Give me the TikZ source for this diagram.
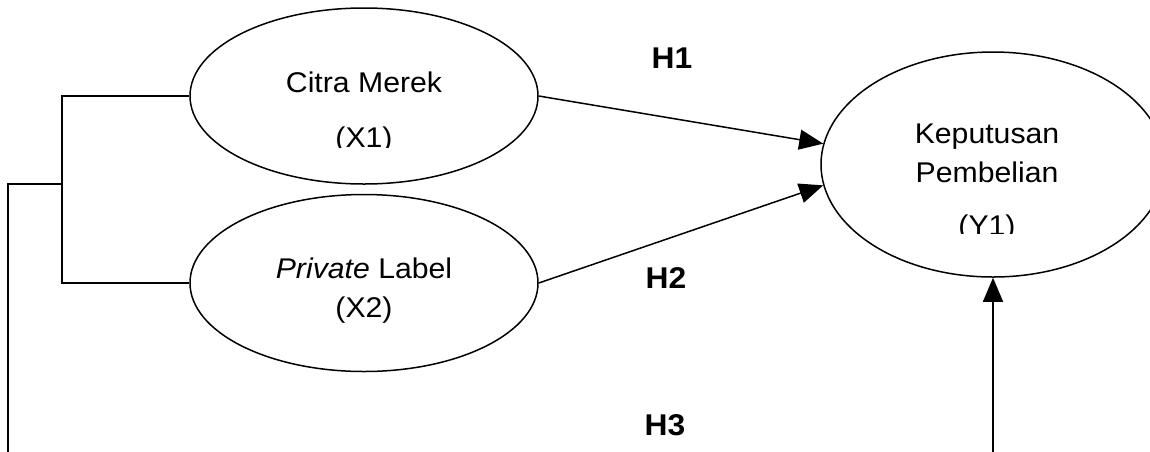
\documentclass[tikz,border=0pt]{standalone}
\usepackage{fontspec}
\setmainfont{Liberation Sans}[FakeStretch=1.06]
\usetikzlibrary{shapes.geometric,arrows.meta}
\begin{document}
\begin{tikzpicture}[x=1pt,y=-1pt,
  line width=1.5pt,
  var/.style={draw,ellipse,inner sep=0pt},
  lbl/.style={anchor=base,inner sep=0pt,font=\fontsize{28.5}{34}\selectfont},
  hyp/.style={anchor=base,inner sep=0pt,font=\fontsize{30}{36}\selectfont\bfseries},
  arr/.style={-{Triangle[length=24pt,width=20pt]}}]
\useasboundingbox (0,0) rectangle (1150,451);
% ellipses
\node[var,minimum width=348pt,minimum height=176pt] (x1) at (364,96) {};
\node[var,minimum width=348pt,minimum height=177pt] (x2) at (364,283) {};
\node[var,minimum width=344pt,minimum height=225pt] (y1) at (993,164.5) {};
% texts
\node[lbl] (t1) at (364,92) {Citra Merek};
\begin{scope}
\clip (190,100) rectangle (538,147);
\node[lbl] (t1b) at (364,147) {(X1)};
\end{scope}
\node[lbl] (t2) at (364,278) {\textit{Private} Label};
\node[lbl] (t2b) at (364,317) {(X2)};
\node[lbl] (t3) at (987,143) {Keputusan};
\node[lbl] (t3b) at (987,182) {Pembelian};
\begin{scope}
\clip (820,190) rectangle (1150,233);
\node[lbl] (t3c) at (987,235) {(Y1)};
\end{scope}
\node[hyp] (h1) at (672,68) {H1};
\node[hyp] (h2) at (666,288) {H2};
\node[hyp] (h3) at (665,435) {H3};
% connectors
\coordinate (bus) at (62,184);
\coordinate (busend) at (8,452);
\coordinate (src3) at (993,452);
\draw (x1.west) -| (bus) |- (x2.west);
\draw (bus) -| (busend);
\draw[arr] (x1.east) -- (y1.173);
\draw[arr] (x2.east) -- (y1.187);
\draw[arr] (src3) -- (y1.south);
\end{tikzpicture}
\end{document}
